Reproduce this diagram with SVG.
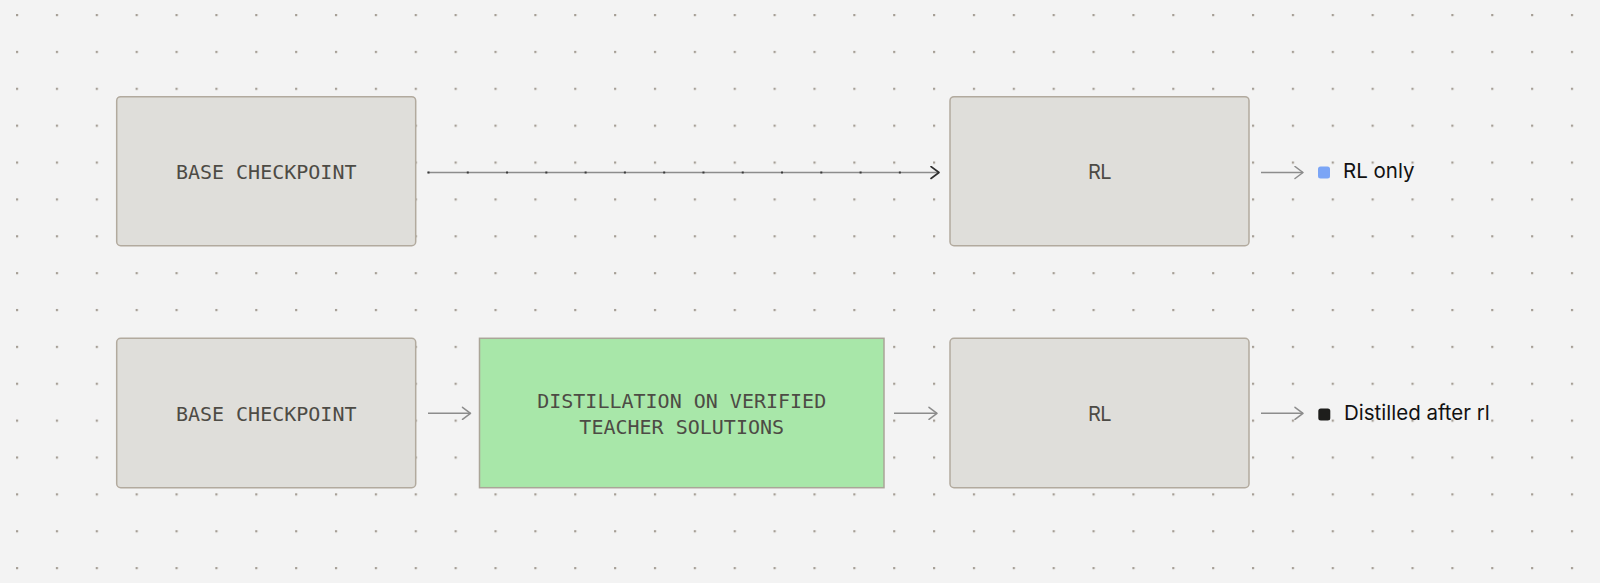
<svg xmlns="http://www.w3.org/2000/svg" width="1600" height="583" viewBox="0 0 1600 583">
  <defs>
    <pattern id="grid" x="16" y="14" width="39.87" height="36.87" patternUnits="userSpaceOnUse">
      <rect x="0" y="0" width="2.2" height="2.2" fill="#a59e95"/>
    </pattern>
    <marker id="headGray" viewBox="0 0 12 14" refX="10" refY="7" markerWidth="12" markerHeight="14" markerUnits="userSpaceOnUse" orient="auto">
      <path d="M2,1 L10,7 L2,13" fill="none" stroke="#8c8c8c" stroke-width="1.5" stroke-linecap="round" stroke-linejoin="round"/>
    </marker>
    <marker id="headDark" viewBox="0 0 12 14" refX="10" refY="7" markerWidth="12" markerHeight="14" markerUnits="userSpaceOnUse" orient="auto">
      <path d="M2,1 L10,7 L2,13" fill="none" stroke="#2e2e2e" stroke-width="1.6" stroke-linecap="round" stroke-linejoin="round"/>
    </marker>
    <style>
      .box { fill: #dfdeda; stroke: #b2aa9e; stroke-width: 1.5; }
      .green { fill: #a8e7a9; stroke: #aaa598; stroke-width: 1.5; }
      .mono { font-family: "DejaVu Sans Mono", "Liberation Mono", monospace; font-size: 20px; fill: #4d4b45; text-anchor: middle; }
      .sans { font-family: Inter, "Liberation Sans", sans-serif; font-size: 20px; fill: #4d4b45; text-anchor: middle; letter-spacing: -0.5px; }
      .legend { font-family: Inter, "Liberation Sans", sans-serif; font-size: 20.5px; fill: #111111; }
      .conn { fill: none; stroke: #8c8c8c; stroke-width: 1.5; }
    </style>
  </defs>
  <rect x="0" y="0" width="1600" height="583" fill="#f3f3f3"/>
  <rect x="0" y="0" width="1600" height="583" fill="url(#grid)"/>

  <g id="connectors">
    <line class="conn" x1="427.5" y1="172.5" x2="939" y2="172.5" stroke="#8a8a8a" marker-end="url(#headDark)"/>
    <line x1="427.5" y1="172.5" x2="920" y2="172.5" fill="none" stroke="#3a3a3a" stroke-width="1.8" stroke-dasharray="2 37.28"/>
    <line class="conn" x1="1261" y1="172.5" x2="1303" y2="172.5" marker-end="url(#headGray)"/>
    <line class="conn" x1="428" y1="413.3" x2="470.5" y2="413.3" marker-end="url(#headGray)"/>
    <line class="conn" x1="894" y1="413.3" x2="937" y2="413.3" marker-end="url(#headGray)"/>
    <line class="conn" x1="1261" y1="413.3" x2="1303" y2="413.3" marker-end="url(#headGray)"/>
  </g>

  <g id="base-top">
    <rect class="box" x="116.7" y="96.7" width="299" height="149" rx="4"/>
    <text class="mono" x="266.2" y="179.3">BASE CHECKPOINT</text>
  </g>
  <g id="rl-top">
    <rect class="box" x="950" y="96.7" width="299" height="149" rx="4"/>
    <text class="sans" x="1099.5" y="179.3">RL</text>
  </g>
  <g id="legend-rl-only">
    <rect x="1318" y="166.5" width="12" height="12" rx="2.5" fill="#7ba5f6"/>
    <text class="legend" x="1343" y="177.8">RL only</text>
  </g>

  <g id="base-bottom">
    <rect class="box" x="116.7" y="338.3" width="299" height="149.4" rx="4"/>
    <text class="mono" x="266.2" y="421.3">BASE CHECKPOINT</text>
  </g>
  <g id="distillation">
    <rect class="green" x="479.5" y="338.3" width="404.5" height="149.4"/>
    <text class="mono" x="681.7" y="408.3">DISTILLATION ON VERIFIED</text>
    <text class="mono" x="681.7" y="434">TEACHER SOLUTIONS</text>
  </g>
  <g id="rl-bottom">
    <rect class="box" x="950" y="338.3" width="299" height="149.4" rx="4"/>
    <text class="sans" x="1099.5" y="421.3">RL</text>
  </g>
  <g id="legend-distilled">
    <rect x="1318.3" y="408.5" width="12" height="12" rx="2.5" fill="#1e1e1c"/>
    <text class="legend" x="1344" y="419.5">Distilled after rl</text>
  </g>
</svg>
